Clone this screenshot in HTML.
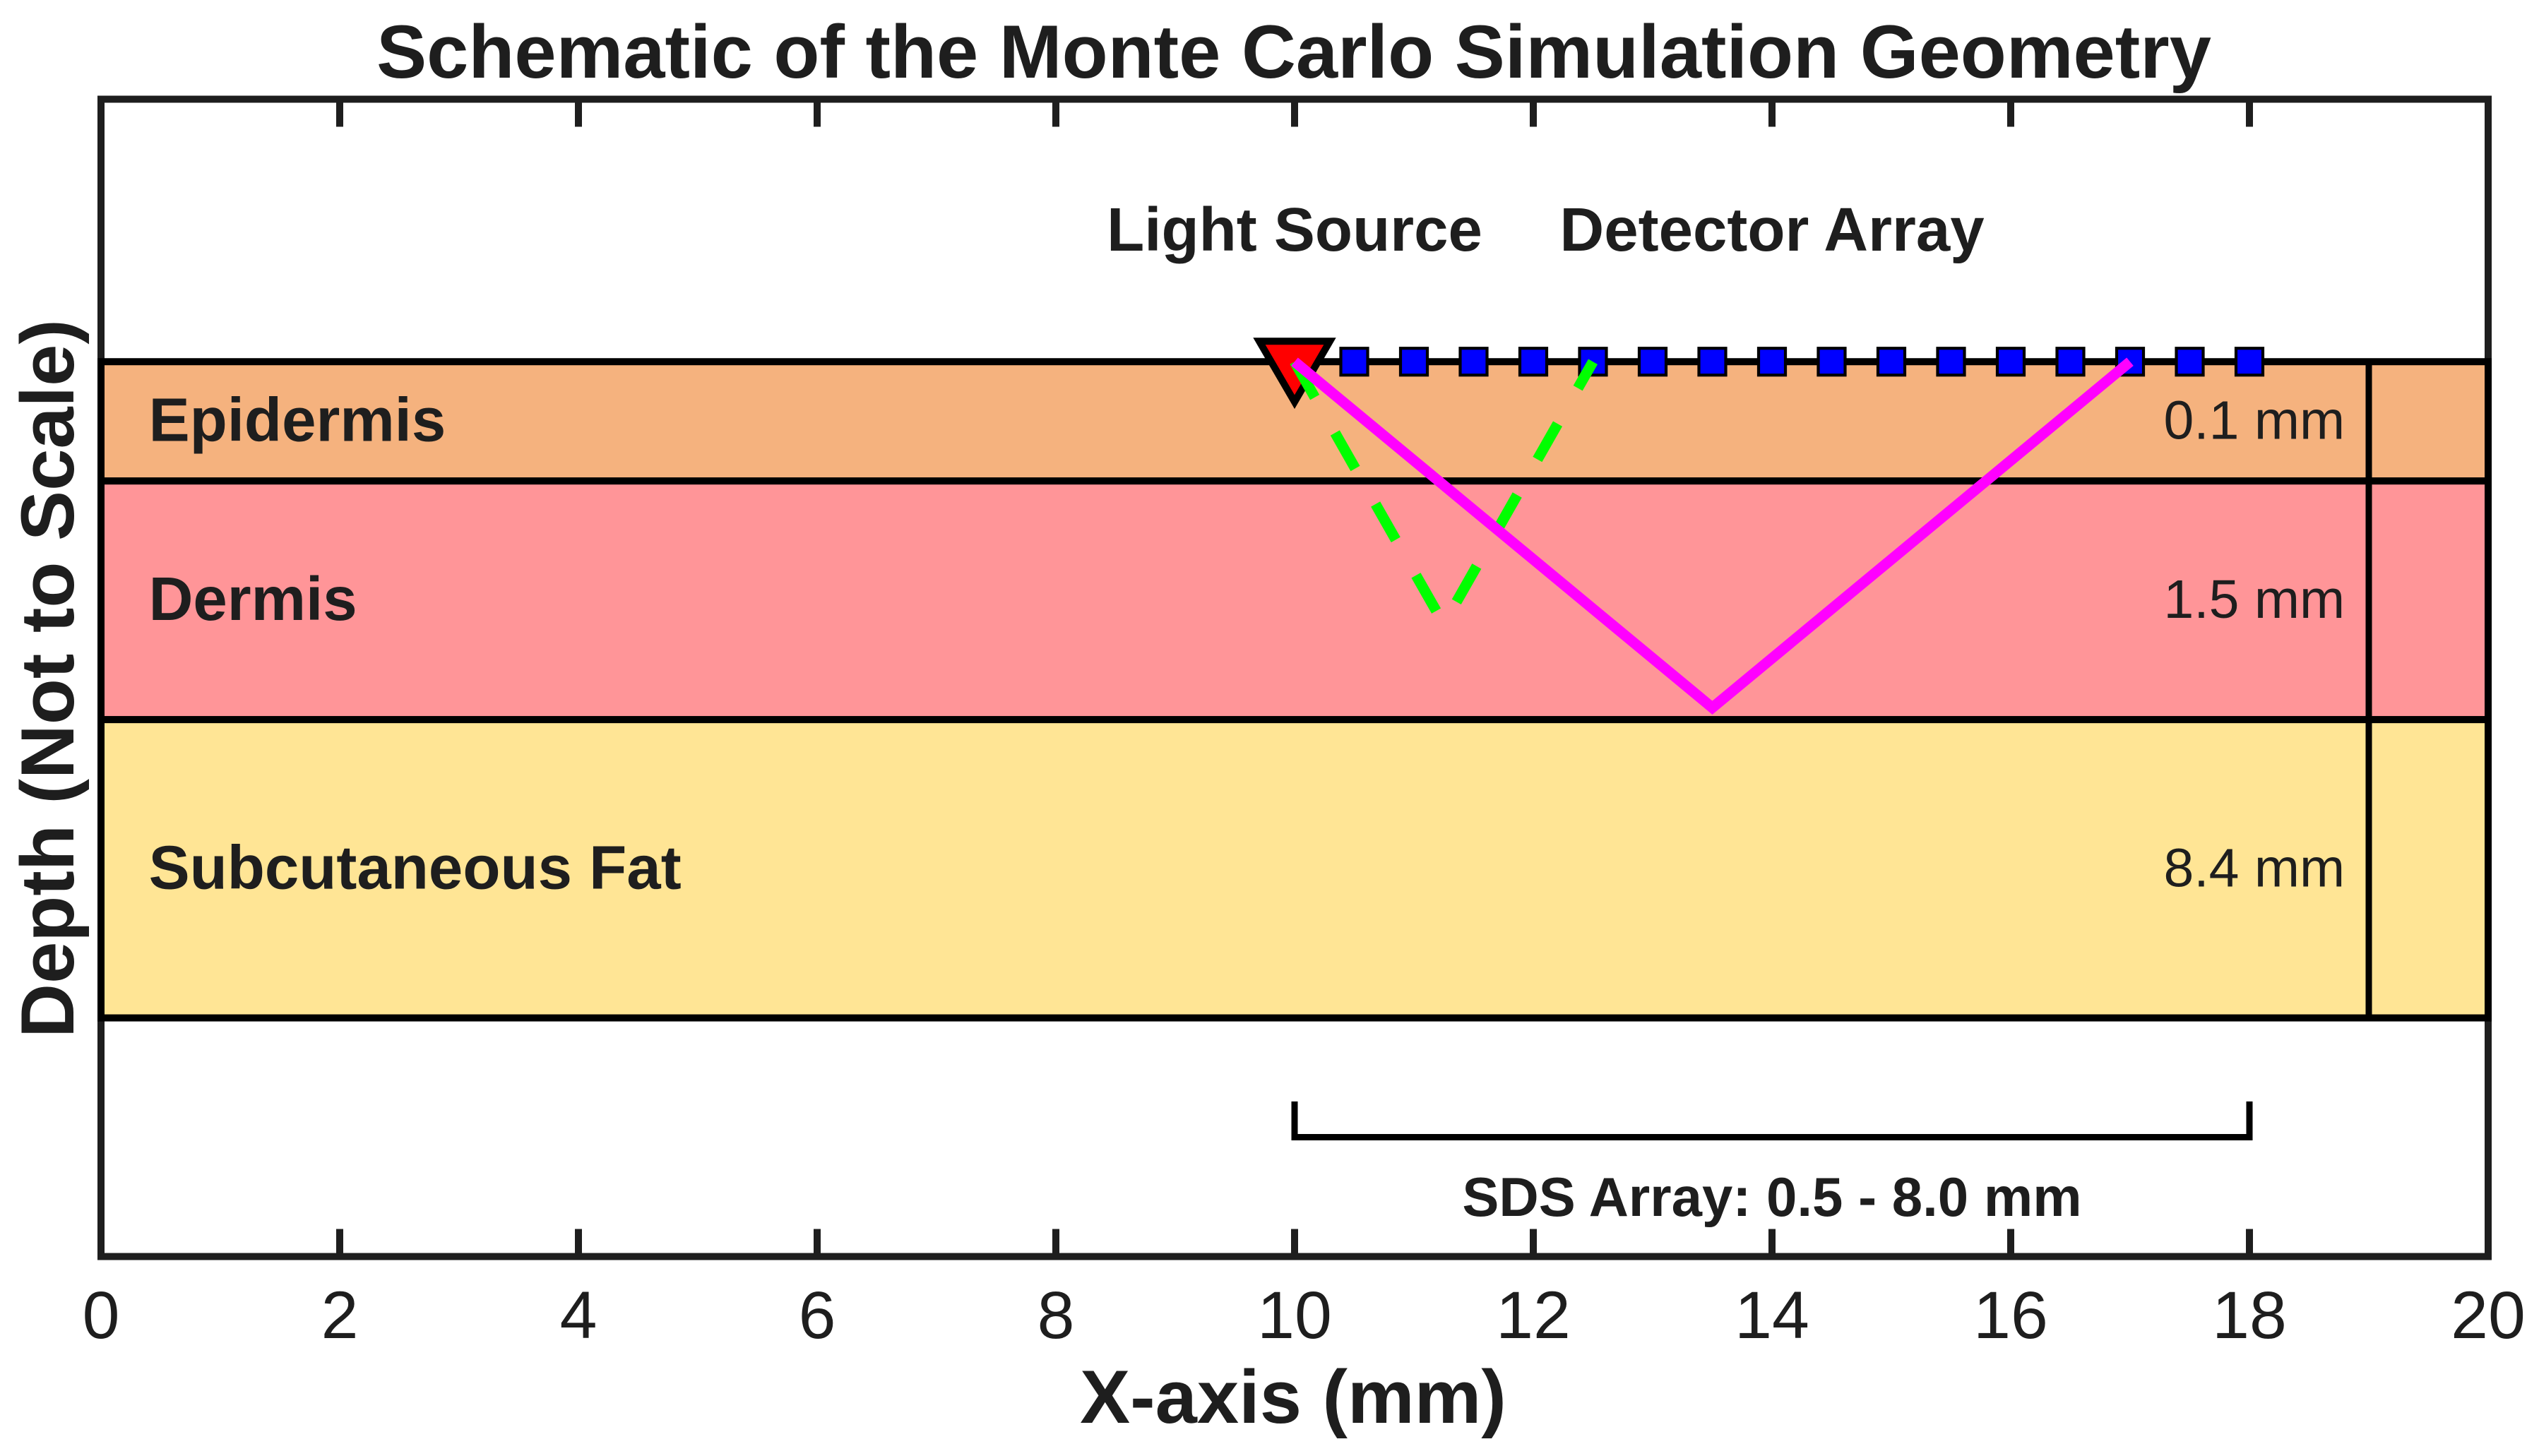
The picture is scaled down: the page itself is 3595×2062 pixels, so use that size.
<!DOCTYPE html>
<html lang="en">
<head>
<meta charset="utf-8">
<title>Schematic of the Monte Carlo Simulation Geometry</title>
<style>
html,body{margin:0;padding:0;background:#fff;}
svg{display:block;}
text{font-family:"Liberation Sans",Arial,sans-serif;fill:#1e1e1e;}
</style>
</head>
<body>
<svg id="chart" xmlns="http://www.w3.org/2000/svg" width="3595" height="2062" viewBox="0 0 3595 2062">
  <rect x="0" y="0" width="3595" height="2062" fill="#ffffff"/>
  <g id="axes-frame"></g>
  <g id="layers"></g>
  <g id="marks"></g>
  <g id="annotations"></g>
  <text x="1832" y="110" text-anchor="middle" font-size="106.5" font-weight="700">Schematic of the Monte Carlo Simulation Geometry</text>
  <text x="1831" y="2015" text-anchor="middle" font-size="106.5" font-weight="700">X-axis (mm)</text>
  <text x="0" y="0" transform="translate(104 961) rotate(-90)" text-anchor="middle" font-size="106.5" font-weight="700">Depth (Not to Scale)</text>
</svg>
<script>
// ---- chart data ----
const xTicks = [0, 2, 4, 6, 8, 10, 12, 14, 16, 18, 20];
const xTickLabels = ['0', '2', '4', '6', '8', '10', '12', '14', '16', '18', '20'];
const xLimits = [0, 20];
const yLimits = [-7.5, 2.2];

const layerNames = ['Epidermis', 'Dermis', 'Subcutaneous Fat'];
const layerTops = [0, -1, -3];
const layerBottoms = [-1, -3, -5.5];
const layerColors = ['#f5b27e', '#ff9598', '#ffe595'];
const layerThicknessLabels = ['0.1 mm', '1.5 mm', '8.4 mm'];
const layerNameX = 0.4;
const thicknessLabelX = 18.8;
const thicknessLineX = 19;

const surfaceDepth = 0;
const sourceX = 10;
const detectorXs = [10.5, 11, 11.5, 12, 12.5, 13, 13.5, 14, 14.5, 15, 15.5, 16, 16.5, 17, 17.5, 18];

const shallowPathX = [10, 11.25, 12.5];
const shallowPathY = [0, -2.2, 0];
const deepPathX = [10, 13.5, 17];
const deepPathY = [0, -2.9, 0];

const bracketX = [10, 10, 18, 18];
const bracketY = [-6.2, -6.5, -6.5, -6.2];

const sourceLabel = 'Light Source';
const sourceLabelX = 10;
const detectorLabel = 'Detector Array';
const detectorLabelX = 14;
const calloutLabelY = 0.93;
const sdsLabel = 'SDS Array: 0.5 - 8.0 mm';
const sdsLabelX = 14;
const sdsLabelY = -7.16;

// ---- axis functions ----
const plotLeft = 143, plotRight = 3523, plotTop = 140.5, plotBottom = 1779.5;
function xScale(v) {
  return plotLeft + (v - xLimits[0]) / (xLimits[1] - xLimits[0]) * (plotRight - plotLeft);
}
function yScale(v) {
  return plotTop + (yLimits[1] - v) / (yLimits[1] - yLimits[0]) * (plotBottom - plotTop);
}
function pointList(xs, ys) {
  return xs.map(function (x, i) { return xScale(x) + ',' + yScale(ys[i]); }).join(' ');
}

const NS = 'http://www.w3.org/2000/svg';
function make(tag, parent, props) {
  const el = document.createElementNS(NS, tag);
  Object.keys(props).forEach(function (k) { el.setAttribute(k, props[k]); });
  parent.appendChild(el);
  return el;
}

const frameGroup = document.getElementById('axes-frame');
const layerGroup = document.getElementById('layers');
const markGroup = document.getElementById('marks');
const noteGroup = document.getElementById('annotations');
const axisColor = '#1e1e1e';

// axes box
const axesBox = make('rect', frameGroup, {
  x: xScale(xLimits[0]), y: yScale(yLimits[1]),
  width: xScale(xLimits[1]) - xScale(xLimits[0]),
  height: yScale(yLimits[0]) - yScale(yLimits[1]),
  fill: '#ffffff', stroke: axisColor, 'stroke-width': 10
});



// ticks and tick labels
xTicks.forEach(function (t, i) {
  const px = xScale(t);
  const topTick = make('line', frameGroup, {
    x1: px, x2: px, y1: yScale(yLimits[1]), y2: yScale(yLimits[1]) + 39,
    stroke: axisColor, 'stroke-width': 10
  });
  
  
  const bottomTick = make('line', frameGroup, {
    x1: px, x2: px, y1: yScale(yLimits[0]), y2: yScale(yLimits[0]) - 39,
    stroke: axisColor, 'stroke-width': 10
  });
  
  
  const label = make('text', frameGroup, {
    x: px, y: 1895, 'text-anchor': 'middle', 'font-size': 95
  });
  label.textContent = xTickLabels[i];
  
  
});

// tissue layers
layerNames.forEach(function (name, i) {
  const top = yScale(layerTops[i]);
  const bottom = yScale(layerBottoms[i]);
  const band = make('rect', layerGroup, {
    x: xScale(xLimits[0]), y: top,
    width: xScale(xLimits[1]) - xScale(xLimits[0]), height: bottom - top,
    fill: layerColors[i], stroke: '#000000', 'stroke-width': 10
  });
  
  
});
const thicknessLine = make('line', layerGroup, {
  x1: xScale(thicknessLineX), x2: xScale(thicknessLineX),
  y1: yScale(layerTops[0]), y2: yScale(layerBottoms[layerBottoms.length - 1]),
  stroke: '#000000', 'stroke-width': 9
});



layerNames.forEach(function (name, i) {
  const mid = (yScale(layerTops[i]) + yScale(layerBottoms[i])) / 2;
  const nameText = make('text', layerGroup, {
    x: xScale(layerNameX), y: mid + 28, 'font-size': 87, 'font-weight': 700
  });
  nameText.textContent = name;
  
  
  const sizeText = make('text', layerGroup, {
    x: xScale(thicknessLabelX), y: mid + 25, 'text-anchor': 'end', 'font-size': 77
  });
  sizeText.textContent = layerThicknessLabels[i];
  
  
});

// detector markers
detectorXs.forEach(function (x) {
  const d = make('rect', markGroup, {
    x: xScale(x) - 19, y: yScale(surfaceDepth) - 19, width: 38, height: 38,
    fill: '#0000ff', stroke: '#000000', 'stroke-width': 4.2
  });
  
  
});

// light source marker
const srcX = xScale(sourceX), srcY = yScale(surfaceDepth);
const source = make('polygon', markGroup, {
  points: (srcX - 50) + ',' + (srcY - 29) + ' ' + (srcX + 50) + ',' + (srcY - 29) + ' ' + srcX + ',' + (srcY + 57),
  fill: '#ff0000', stroke: '#000000', 'stroke-width': 10, 'stroke-linejoin': 'miter', 'stroke-miterlimit': 10
});



// photon paths
const shallowPath = make('polyline', markGroup, {
  points: pointList(shallowPathX, shallowPathY),
  fill: 'none', stroke: '#00ff00', 'stroke-width': 15, 'stroke-dasharray': '58 58'
});



const deepPath = make('polyline', markGroup, {
  points: pointList(deepPathX, deepPathY),
  fill: 'none', stroke: '#ff00ff', 'stroke-width': 15, 'stroke-linejoin': 'miter'
});



// SDS bracket
const bracket = make('polyline', noteGroup, {
  points: pointList(bracketX, bracketY),
  fill: 'none', stroke: '#000000', 'stroke-width': 9, 'stroke-linejoin': 'miter'
});



// callouts
const sourceText = make('text', noteGroup, {
  x: xScale(sourceLabelX), y: yScale(calloutLabelY), 'text-anchor': 'middle', 'font-size': 87, 'font-weight': 700
});
sourceText.textContent = sourceLabel;



const detectorText = make('text', noteGroup, {
  x: xScale(detectorLabelX), y: yScale(calloutLabelY), 'text-anchor': 'middle', 'font-size': 87, 'font-weight': 700
});
detectorText.textContent = detectorLabel;



const sdsText = make('text', noteGroup, {
  x: xScale(sdsLabelX), y: yScale(sdsLabelY), 'text-anchor': 'middle', 'font-size': 78, 'font-weight': 700
});
sdsText.textContent = sdsLabel;


</script>
</body>
</html>
